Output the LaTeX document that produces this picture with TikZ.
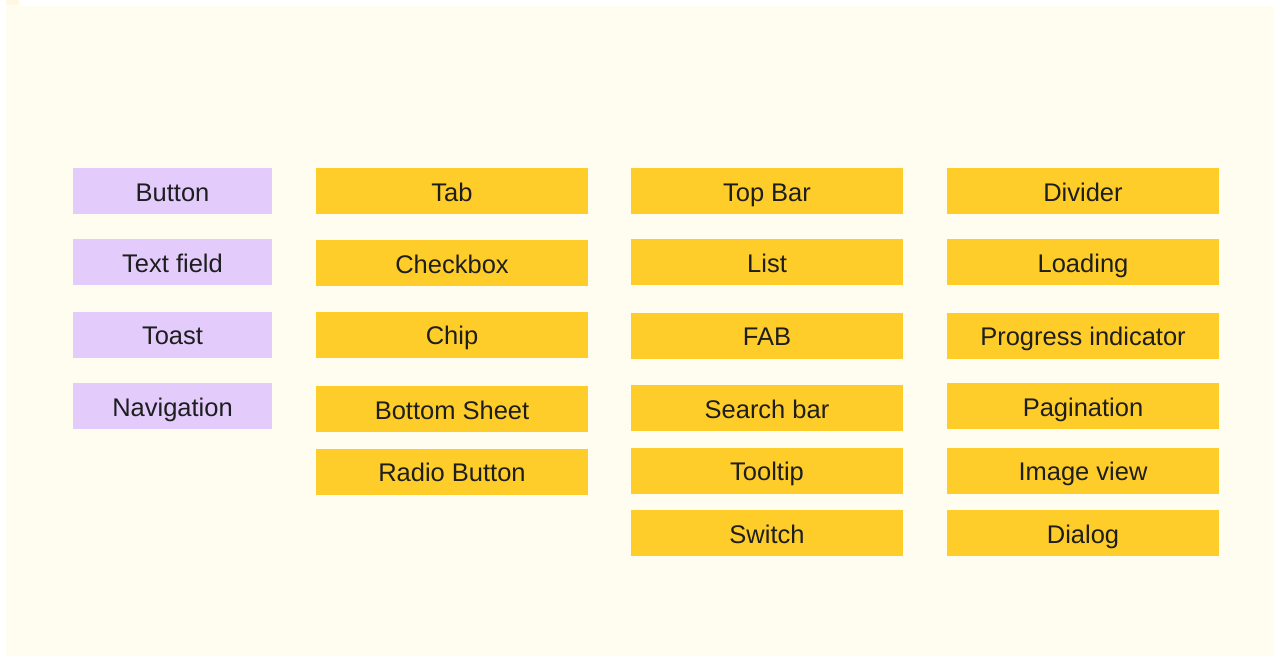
\documentclass[tikz,border=0pt]{standalone}
\usepackage{fontspec}
\setmainfont{Liberation Sans}
\usetikzlibrary{positioning}

\definecolor{paper}{HTML}{FFFCF0}
\definecolor{tabtint}{HTML}{FFF7E2}
\definecolor{lilac}{HTML}{E3CCFC}
\definecolor{sun}{HTML}{FFCD29}
\definecolor{ink}{HTML}{1E1E1E}

\begin{document}
\begin{tikzpicture}[x=1pt,y=-1pt,
card/.style={fill=#1,inner sep=0pt,minimum height=46pt,text=ink,
  text height=20pt,text depth=0pt,font=\fontsize{25.5}{30}\selectfont},
basic/.style={card=lilac,minimum width=199pt},
part/.style={card=sun,minimum width=272pt}]

\useasboundingbox (0,0) rectangle (1280,662);
\fill [white] (0,0) rectangle (1280,662);
\fill [tabtint, rounded corners=1pt] (6,0) rectangle (19,5);
\fill [paper, rounded corners=3pt] (6,6) rectangle (1274,656);

% first column
\node [basic] (button) at (172.5,191) {Button};
\node [basic] (textfield) [below=25pt of button] {Text field};
\node [basic] (toast) [below=26pt of textfield] {Toast};
\node [basic] (navigation) [below=25pt of toast] {Navigation};

% second column
\node [part] (tab) at (452,191) {Tab};
\node [part] (checkbox) [below=26pt of tab] {Checkbox};
\node [part] (chip) [below=25pt of checkbox] {Chip};
\node [part] (sheet) [below=28pt of chip] {Bottom Sheet};
\node [part] (radio) [below=16pt of sheet] {Radio Button};

% third column
\node [part] (topbar) at (767,191) {Top Bar};
\node [part] (list) [below=25pt of topbar] {List};
\node [part] (fab) [below=27pt of list] {FAB};
\node [part] (search) [below=26pt of fab] {Search bar};
\node [part] (tooltip) [below=16pt of search] {Tooltip};
\node [part] (switch) [below=16pt of tooltip] {Switch};

% fourth column
\node [part] (divider) at (1083,191) {Divider};
\node [part] (loading) [below=25pt of divider] {Loading};
\node [part] (progress) [below=27pt of loading] {Progress indicator};
\node [part] (pagination) [below=24pt of progress] {Pagination};
\node [part] (imageview) [below=18pt of pagination] {Image view};
\node [part] (dialog) [below=16pt of imageview] {Dialog};
\end{tikzpicture}
\end{document}
